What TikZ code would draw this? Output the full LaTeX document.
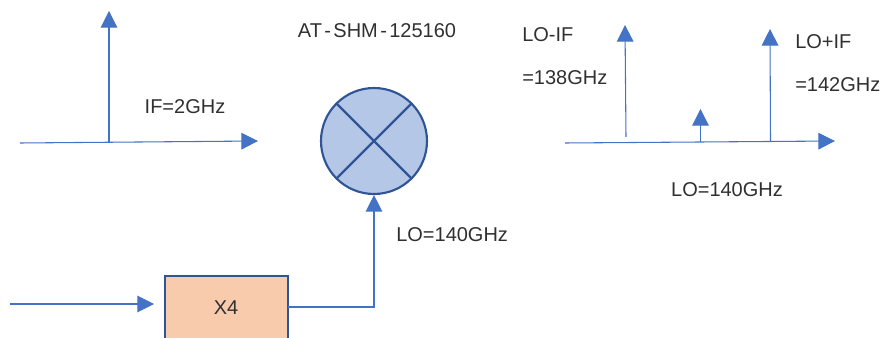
\documentclass[tikz,border=0pt]{standalone}
\usepackage{fontspec}
\setmainfont{Liberation Sans}
\usepackage{xcolor}
\usepackage{tikz}
\usetikzlibrary{arrows.meta, positioning, calc}
\definecolor{mixblue}{HTML}{4472c4}
\definecolor{mixdark}{HTML}{2f5597}
\definecolor{mixfill}{HTML}{b4c7e7}
\definecolor{boxfill}{HTML}{f8cbad}
\definecolor{labelgray}{HTML}{303030}
\tikzset{
  arrow/.style={-{Triangle[length=12.5pt,width=12.5pt]}, line width=0.8pt, draw=mixblue},
  lbl/.style={font=\fontsize{15}{17}\selectfont, text=labelgray, inner sep=0pt},
  mixer/.style={circle, draw=mixdark, fill=mixfill, line width=1.6pt, minimum size=79.5pt, inner sep=0pt},
  multbox/.style={draw=mixdark, fill=boxfill, line width=1.6pt, minimum width=92pt, minimum height=50pt, inner sep=0pt}
}
\begin{document}
\begin{tikzpicture}[x=0.75pt,y=-0.75pt]
    \useasboundingbox (0,0) rectangle (882,338);
    % mixer and multiplier
    \node[mixer] (mix) at (374,141) {};
    \draw[mixdark, line width=1.6pt] (mix.45) -- (mix.225) (mix.135) -- (mix.315);
    \node[multbox, anchor=north west] (x4) at (164,275) {};
    \node[lbl] (x4text) at (226,308) {X4};
    \coordinate (rfin) at (10,304);
    \coordinate (x4in) at (154,304);
    \coordinate (x4out) at (288,307);
    \draw[arrow] (rfin) -- (x4in);
    \draw[arrow] (x4out) -| (mix.south);
    % IF spectrum
    \coordinate (ifa) at (20,143);
    \coordinate (ifb) at (258,141);
    \coordinate (ifbase) at (109,142.5);
    \coordinate (iftop) at (109,11);
    \draw[arrow] (ifa) -- (ifb);
    \draw[arrow] (ifbase) -- (iftop);
    % RF spectrum
    \coordinate (rfa) at (565,143);
    \coordinate (rfb) at (835,141);
    \coordinate (lsbbase) at (626,137);
    \coordinate (lsbtop) at (625,25);
    \coordinate (lobase) at (700.5,142);
    \coordinate (lotop) at (700.5,109);
    \coordinate (usbbase) at (770.5,142);
    \coordinate (usbtop) at (770,29);
    \draw[arrow] (rfa) -- (rfb);
    \draw[arrow] (lsbbase) -- (lsbtop);
    \draw[arrow] (lobase) -- (lotop);
    \draw[arrow] (usbbase) -- (usbtop);
    % labels
    \node[lbl] (part) at (377,31) {AT\kern1.8pt-\kern1.8pt SHM\kern1.8pt-\kern1.8pt 125160};
    \node[lbl] (iflbl) at (185,107) {IF=2GHz};
    \node[lbl, anchor=west] (lolbl) at (396,235) {LO=140GHz};
    \node[lbl, anchor=west] (lsba) at (522,35) {LO-IF};
    \node[lbl, anchor=west] (lsbb) at (522,78) {=138GHz};
    \node[lbl, anchor=west] (usba) at (795,42) {LO+IF};
    \node[lbl, anchor=west] (usbb) at (795,85) {=142GHz};
    \node[lbl] (rflo) at (727,190) {LO=140GHz};
  \end{tikzpicture}
\end{document}
